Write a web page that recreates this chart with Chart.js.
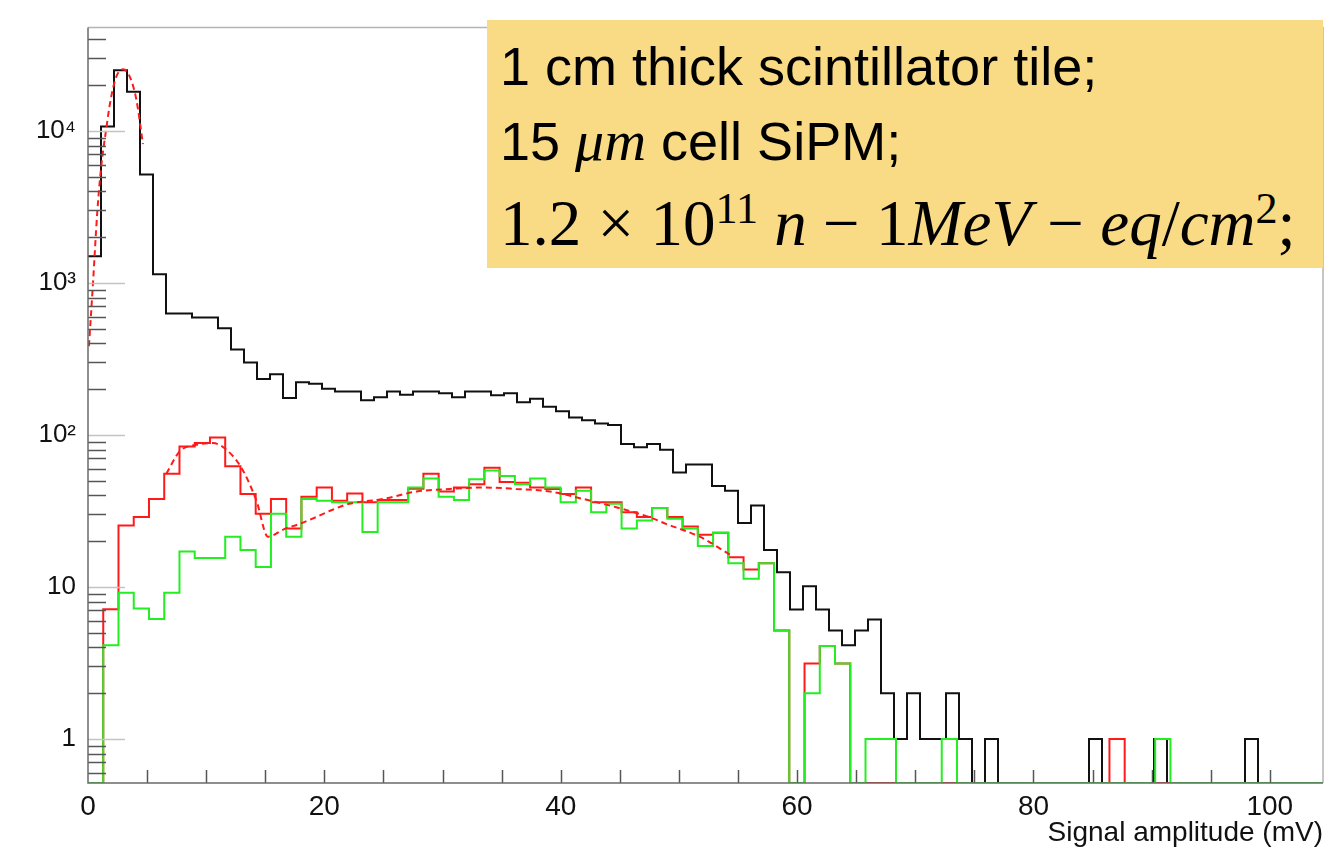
<!DOCTYPE html>
<html>
<head>
<meta charset="utf-8">
<script src="https://cdn.jsdelivr.net/npm/chart.js@4.4.0/dist/chart.umd.min.js"></script>
<style>
  html, body { margin: 0; padding: 0; background: #fff; }
  #wrap { position: relative; width: 1332px; height: 851px; }
  #note { position: absolute; left: 487px; top: 20px; width: 836px; height: 248px; background: #f9da85; }
  .ln { position: absolute; left: 13px; white-space: nowrap; color: #000;
        font-family: "Liberation Sans", Arial, sans-serif; font-size: 54px; line-height: 54px; }
  .math { font-family: "Liberation Serif", "Times New Roman", serif; font-size: 65px; line-height: 65px; }
  .it { font-family: "Liberation Serif", "Times New Roman", serif; font-style: italic; font-size: 58px; }
  .sup { position: relative; top: -0.5em; font-size: 0.68em; }
</style>
</head>
<body>
<div id="wrap">
  <canvas id="myChart" width="1332" height="851"></canvas>
  <div id="note">
    <div class="ln" style="top:19px">1 cm thick scintillator tile;</div>
    <div class="ln" style="top:94px">15 <span class="it">μm</span> cell SiPM;</div>
    <div class="ln math" style="top:171px">1.2 × 10<span class="sup">11</span> <i>n</i> − 1<i>MeV</i> − <i>eq</i>/<i>cm</i><span class="sup">2</span>;</div>
  </div>
</div>
<script>
// binning (mV)
const blackBinWidth = 1.1;
const colorBinWidth = 1.29;
const xMin = 0, xMax = 104.5;
const yMin = 0.513, yMax = 47800;

const xTickValues = [0, 20, 40, 60, 80, 100];
const yTickValues = [1, 10, 100, 1000, 10000];
const yTickLabels = ['1', '10', '10²', '10³', '10⁴'];

// counts per bin
const blackCounts = [1500, 10700, 25100, 18100, 5160, 1140, 628, 628, 592, 592,
  504, 365, 299, 233, 251, 175, 222, 217, 201, 193,
  193, 169, 177, 193, 184, 193, 193, 188, 177, 193,
  193, 182, 188, 164, 173, 153, 143, 130, 125, 119,
  116, 87, 83, 87, 80, 56.5, 63.9, 63.9, 46.2, 42.9,
  26.3, 34.3, 17.5, 12.5, 7.1, 10.1, 7.1, 5.17, 4.13, 5.17,
  6.1, 2, 1, 2, 1, 1, 2, 1, 0, 1,
  0, 0, 0, 0, 0, 0, 0, 1, 0, 0,
  0, 0, 1, 0, 0, 0, 0, 0, 0, 1,
  0, 0, 0, 0, 0];

const redCounts = [0, 7.14, 25.4, 28.8, 37.9, 55.6, 84, 88.3, 96.1, 62.3,
  40.8, 30.3, 37.9, 24.2, 39.2, 45.1, 36.9, 41.2, 36.1, 37.3,
  37.3, 44.2, 55.6, 42.4, 45.1, 47.4, 60.8, 49, 48.5, 45.1,
  44, 40.8, 45.1, 36.1, 36.1, 31, 28.8, 33, 28.8, 25,
  22, 22.7, 15.7, 13, 14.3, 5.17, 0, 3.14, 4.09, 3.14,
  0, 0, 0, 0, 0, 0, 0, 0, 0, 0,
  0, 0, 0, 0, 0, 0, 0, 1, 0, 0,
  0, 0, 0, 0, 0, 0, 0, 0, 0, 0, 0];

const greenCounts = [0, 4.13, 9.17, 7.21, 6.15, 9.17, 17.1, 15.5, 15.5, 21.4,
  17.5, 13.5, 30.3, 21.4, 37.9, 36.9, 36.1, 36.1, 23.0, 36.1,
  36.1, 45.1, 51.6, 39.2, 37.3, 51.1, 58.4, 53.7, 47.4, 51.6,
  45.1, 36.1, 42.9, 31.0, 35.2, 24.2, 27.4, 33.1, 28.1, 24.2,
  18.6, 22.7, 14.3, 11.3, 14.3, 5.17, 0, 2, 4.09, 3.14,
  0, 1, 1, 0, 0, 0, 1, 0, 0, 0,
  0, 0, 0, 0, 0, 0, 0, 0, 0, 0,
  1, 0, 0, 0, 0, 0, 0, 0, 0, 0, 0];

// fitted curves (red dashed)
const pedestalFitX = [0.08, 0.42, 0.79, 1.13, 1.5, 1.92, 2.4, 2.97, 3.53, 4.09, 4.65];
const pedestalFitY = [384, 988, 2960, 5930, 9770, 16070, 22760, 25400, 22760, 16070, 8190];
const signalFitX = [6.63, 7.76, 9.17, 10.58, 11.71, 12.98, 14.25, 15.23, 16.6, 17.9, 19.3, 20.7,
  22.1, 25.0, 27.8, 30.6, 33.4, 36.2, 39.1, 41.9, 44.7, 47.5, 48.9, 51.75, 54.6];
const signalFitY = [55.6, 77.9, 86.1, 88.3, 79.9, 60.8, 36.9, 21.4, 24, 26, 28.8, 32.2,
  35.2, 37.9, 42.4, 44.1, 45.1, 44.1, 42.4, 37.9, 33.4, 28.8, 26, 21.4, 15.8];

function steps(counts, w) {
  const pts = counts.map((c, i) => ({ x: i * w, y: c > 0 ? c : yMin }));
  pts.push({ x: counts.length * w, y: pts[pts.length - 1].y });
  return pts;
}

const histLine = (data, color) => ({
  data: data, borderColor: color, borderWidth: 2, pointRadius: 0,
  stepped: true, fill: false
});
const fitLine = (xs, ys) => ({
  data: xs.map((x, i) => ({ x: x, y: ys[i] })),
  borderColor: '#ff1a1a', borderWidth: 2, borderDash: [6, 4], pointRadius: 0,
  cubicInterpolationMode: 'monotone', fill: false
});

const frame = {
  id: 'frame',
  afterDatasetsDraw(chart) {
    const { ctx, chartArea: a, scales: { x, y } } = chart;
    ctx.save();
    ctx.lineWidth = 1.5;
    // y ticks, inside the frame
    for (let d = -1; d <= 4; d++) {
      for (let m = 1; m <= 9; m++) {
        const v = m * Math.pow(10, d);
        if (v < yMin || v > yMax) continue;
        const py = Math.round(y.getPixelForValue(v)) + 0.5;
        ctx.strokeStyle = m === 1 ? '#c4c4c4' : '#555';
        ctx.beginPath();
        ctx.moveTo(a.left, py);
        ctx.lineTo(a.left + (m === 1 ? 37 : 18), py);
        ctx.stroke();
      }
    }
    // x ticks every 5 mV
    ctx.strokeStyle = '#555';
    for (let v = 5; v <= 100; v += 5) {
      const px = Math.round(x.getPixelForValue(v)) + 0.5;
      ctx.beginPath();
      ctx.moveTo(px, a.bottom);
      ctx.lineTo(px, a.bottom - 13);
      ctx.stroke();
    }
    // frame
    ctx.strokeStyle = '#b4b4b4';
    ctx.beginPath();
    ctx.moveTo(a.left, a.top); ctx.lineTo(a.right, a.top); ctx.lineTo(a.right, a.bottom);
    ctx.stroke();
    ctx.strokeStyle = '#6a6a6a';
    ctx.beginPath();
    ctx.moveTo(a.left, a.top); ctx.lineTo(a.left, a.bottom); ctx.lineTo(a.right, a.bottom);
    ctx.stroke();
    ctx.restore();
  }
};

const ctx = document.getElementById('myChart');
new Chart(ctx, {
  type: 'line',
  data: {
    datasets: [
      fitLine(pedestalFitX, pedestalFitY),
      fitLine(signalFitX, signalFitY),
      histLine(steps(greenCounts, colorBinWidth), '#22ee22'),
      histLine(steps(redCounts, colorBinWidth), '#ff1a1a'),
      histLine(steps(blackCounts, blackBinWidth), '#111111')
    ]
  },
  options: {
    responsive: false,
    devicePixelRatio: 1,
    animation: false,
    layout: { padding: { top: 17, right: 9, left: 0, bottom: 0 } },
    plugins: { legend: { display: false }, tooltip: { enabled: false } },
    scales: {
      x: {
        type: 'linear', min: xMin, max: xMax,
        grid: { display: false, drawTicks: false },
        border: { display: false },
        afterBuildTicks: s => { s.ticks = xTickValues.map(v => ({ value: v })); },
        afterFit: s => { s.height = 68; },
        ticks: {
          padding: 7, color: '#111', maxRotation: 0, autoSkip: false,
          font: { family: 'Liberation Sans', size: 28 },
          callback: v => String(v)
        },
        title: {
          display: true, text: 'Signal amplitude (mV)', align: 'end', color: '#111',
          font: { family: 'Liberation Sans', size: 28 }, padding: { top: 0, bottom: 1 }
        }
      },
      y: {
        type: 'logarithmic', min: yMin, max: yMax,
        grid: { display: false, drawTicks: false },
        border: { display: false },
        afterBuildTicks: s => { s.ticks = yTickValues.map(v => ({ value: v })); },
        afterFit: s => { s.width = 88; },
        ticks: {
          padding: 12, color: '#111', autoSkip: false,
          font: { family: 'Liberation Sans', size: 26 },
          callback: (v, i) => yTickLabels[i]
        }
      }
    }
  },
  plugins: [frame]
});
</script>
</body>
</html>
